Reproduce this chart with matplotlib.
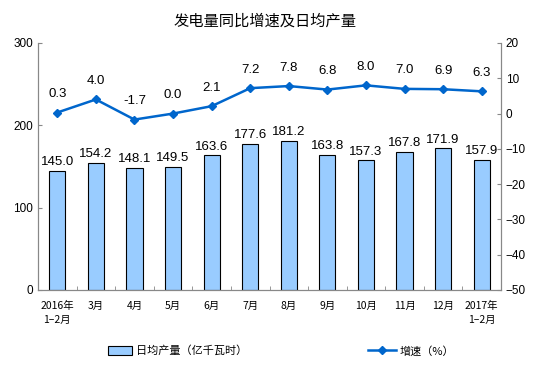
import matplotlib
matplotlib.use("Agg")
import matplotlib.pyplot as plt
import numpy as np

categories = ["2016年\n1–2月", "3月", "4月", "5月", "6月", "7月", "8月", "9月", "10月", "11月", "12月", "2017年\n1–2月"]
output = [145.0, 154.2, 148.1, 149.5, 163.6, 177.6, 181.2, 163.8, 157.3, 167.8, 171.9, 157.9]
growth = [0.3, 4.0, -1.7, 0.0, 2.1, 7.2, 7.8, 6.8, 8.0, 7.0, 6.9, 6.3]
left_ticks = [0, 100, 200, 300]
right_ticks = [20, 10, 0, -10, -20, -30, -40, -50]

plt.rcParams['font.family'] = ['Liberation Sans', 'Noto Sans CJK SC', 'DejaVu Sans']
cjk = ['Noto Sans CJK SC', 'DejaVu Sans']

fig = plt.figure(figsize=(5.54, 3.82), dpi=100)
ax = fig.add_axes([38/554, 1-290/382, 463/554, 247/382])
ax2 = ax.twinx()

x = np.arange(len(categories))
bars = ax.bar(x, output, width=0.42, color="#99CCFF", edgecolor="black", linewidth=0.8, label="日均产量（亿千瓦时）")
for xi, v in zip(x, output):
    ax.annotate(f"{v:.1f}", (xi, v), xytext=(0, 2), textcoords="offset points", ha="center", va="bottom", fontsize=9.5)

ax.set_xlim(-0.5, len(categories) - 0.5)
ax.set_ylim(0, 300)
ax.set_yticks(left_ticks)
ax.set_xticks(x)
ax.set_xticklabels(categories, fontsize=7.5, family=cjk, linespacing=1.5)
ax.set_xticks(np.arange(-0.5, len(categories)), minor=True)
ax.tick_params(axis="x", which="major", length=0, pad=8)
ax.tick_params(axis="x", which="minor", direction="in", length=3, color="#888888")
ax.tick_params(axis="y", direction="in", length=3, color="#888888", labelsize=8.5)

ax2.plot(x, growth, color="#0066CC", marker="D", markersize=4, linewidth=1.8, label="增速（%）")
for xi, v in zip(x, growth):
    ax2.annotate(f"{v:.1f}", (xi, v), xytext=(0, 9), textcoords="offset points", ha="center", va="bottom", fontsize=9.5)
ax2.set_ylim(-50, 20)
ax2.set_yticks(right_ticks)
ax2.tick_params(axis="y", direction="in", length=3, color="#888888", labelsize=8.5)

for a in (ax, ax2):
    a.spines["top"].set_visible(False)
    for s in ("left", "right", "bottom"):
        a.spines[s].set_color("#888888")
        a.spines[s].set_linewidth(0.8)

fig.text(265/554, 1-21/382, "发电量同比增速及日均产量", ha="center", va="center", fontsize=11, family=cjk)

h1, l1 = ax.get_legend_handles_labels()
h2, l2 = ax2.get_legend_handles_labels()
leg1 = fig.legend(h1, l1, loc="center left", bbox_to_anchor=(98/554, 1-351/382), frameon=False,
                  prop={"family": cjk, "size": 8}, handlelength=2.2, handleheight=0.8, handletextpad=0.3)
leg2 = fig.legend(h2, l2, loc="center left", bbox_to_anchor=(358/554, 1-351/382), frameon=False,
                  prop={"family": cjk, "size": 8}, handlelength=2.5, handletextpad=0.3)

fig.savefig("out.png", dpi=100)
